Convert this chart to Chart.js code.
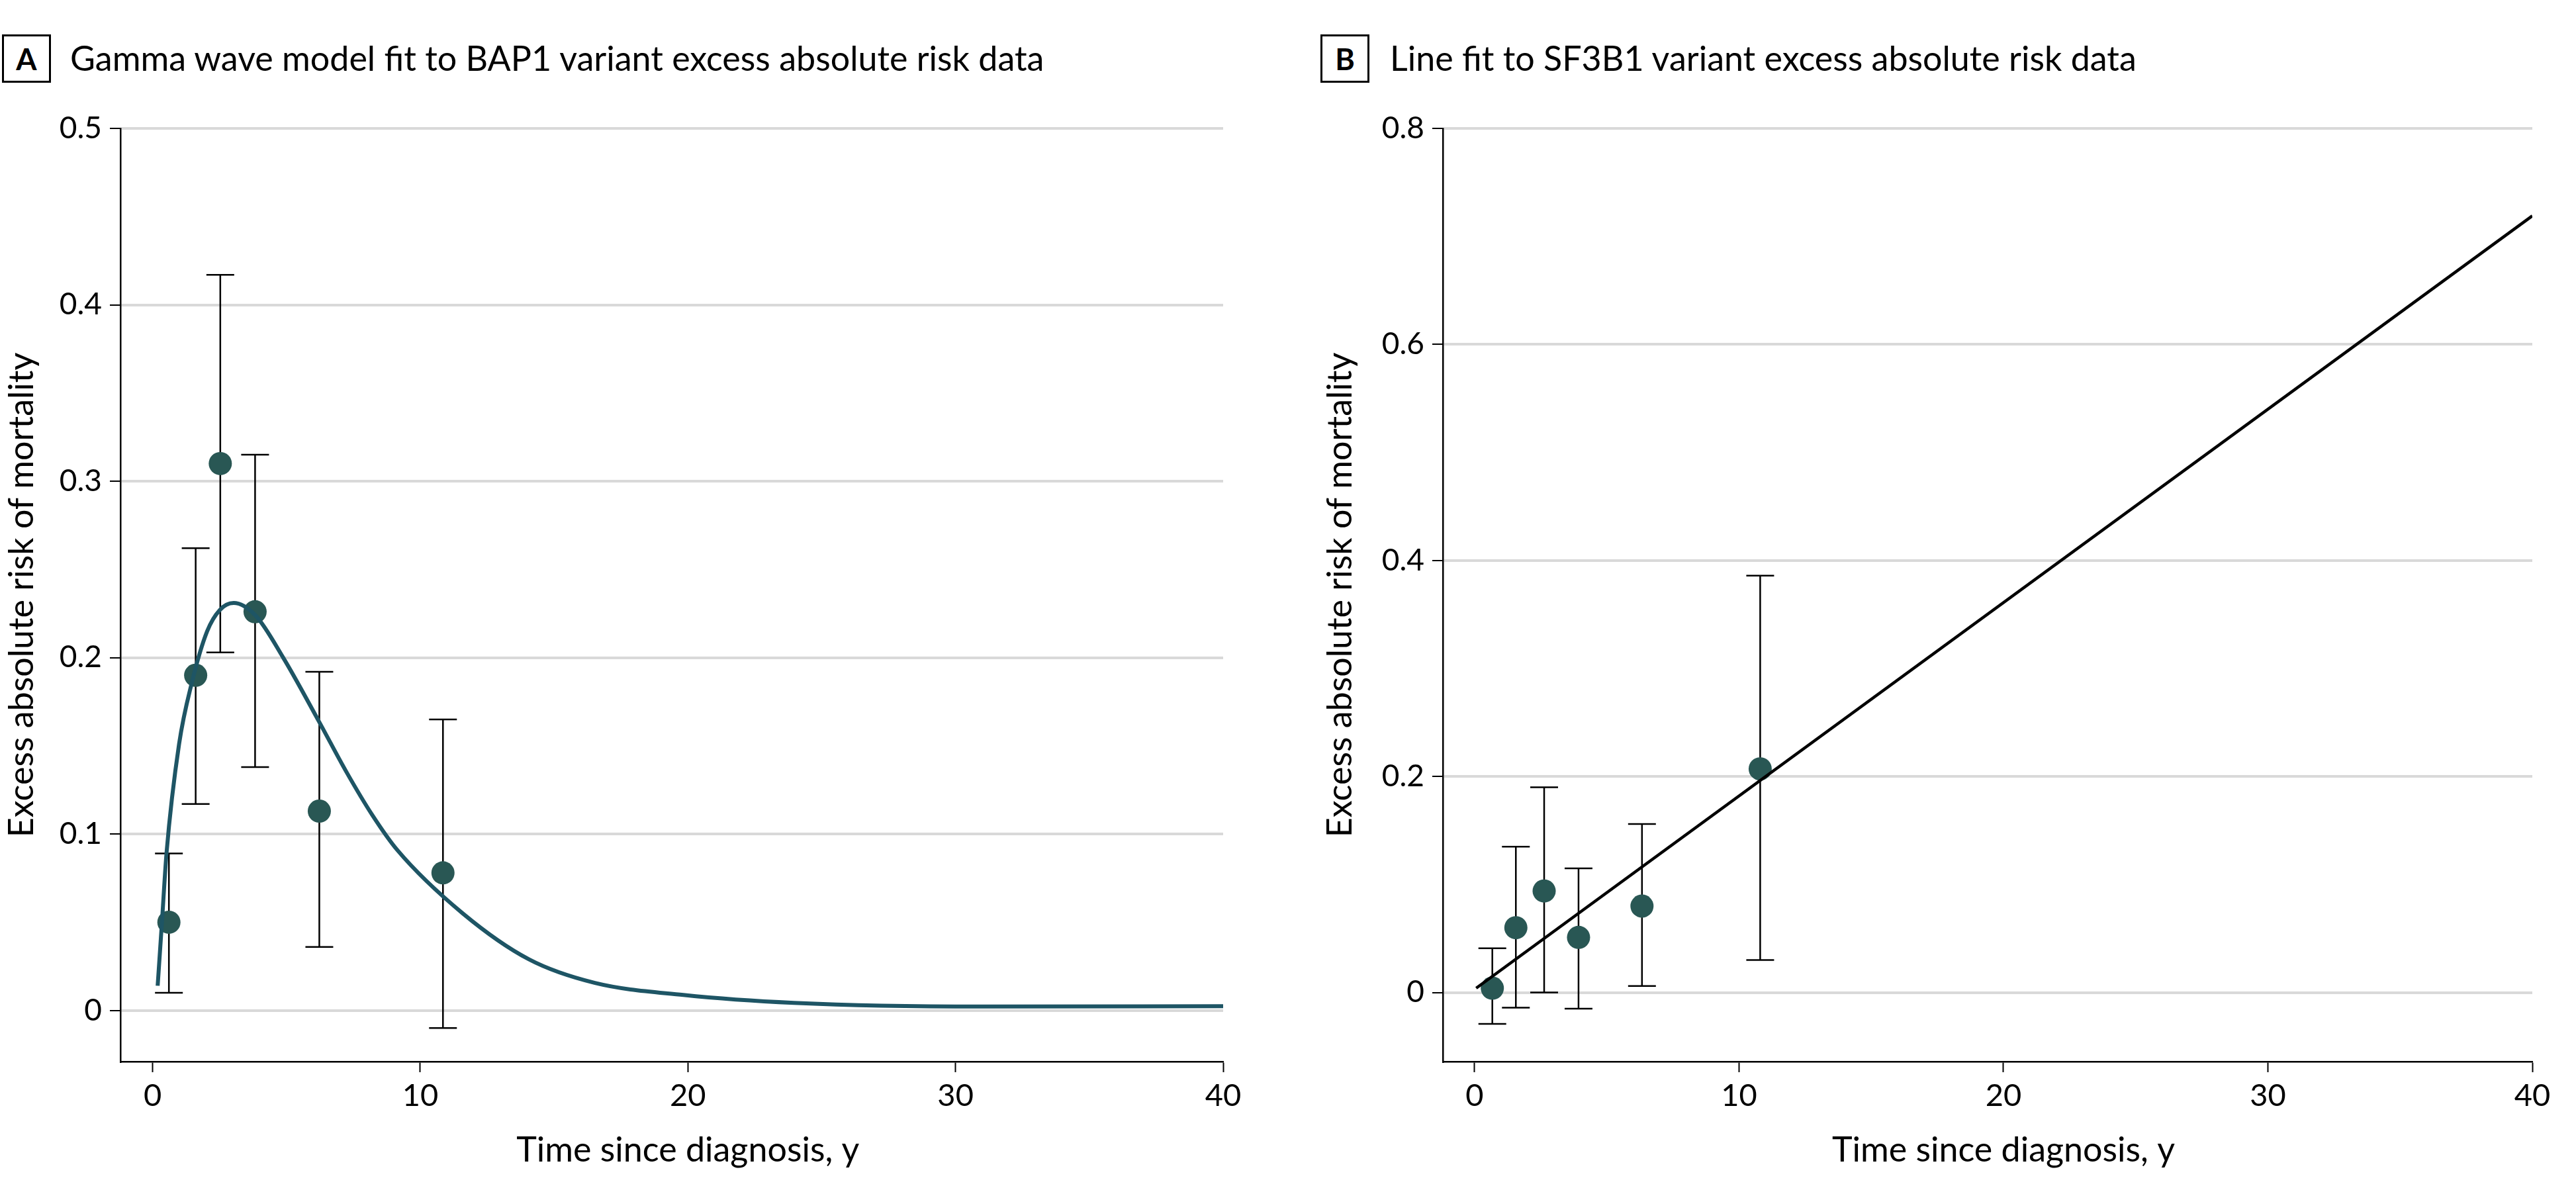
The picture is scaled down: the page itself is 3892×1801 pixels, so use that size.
<!DOCTYPE html>
<html>
<head>
<meta charset="utf-8">
<script src="https://cdn.jsdelivr.net/npm/chart.js@4.4.1/dist/chart.umd.min.js"></script>
<style>
    html, body { margin: 0; padding: 0; background: #fff; }
    body { width: 3892px; height: 1801px; position: relative; overflow: hidden; font-family: Lato, 'Open Sans', sans-serif; color: #000; }
    .badge { position: absolute; top: 52px; width: 68px; height: 67px; border: 3px solid #000; font-weight: bold; font-size: 45px; display: flex; align-items: center; justify-content: center; }
    .ptitle { position: absolute; top: 61px; font-size: 52px; line-height: 52px; white-space: nowrap; }
    canvas { position: absolute; top: 0; }
</style>
</head>
<body>
<div class="badge" style="left: 3px;">A</div>
<div class="ptitle" style="left: 106px;">Gamma wave model fit to BAP1 variant excess absolute risk data</div>
<div class="badge" style="left: 1995px;">B</div>
<div class="ptitle" style="left: 2100px;">Line fit to SF3B1 variant excess absolute risk data</div>
<canvas id="chart-a" width="1900" height="1801" style="left: 0;"></canvas>
<canvas id="chart-b" width="1942" height="1801" style="left: 1950px;"></canvas>
<script>
// --- DATA ---
// A: BAP1 points with 95% CI
const bapTime  = [0.61, 1.61, 2.53, 3.83, 6.23, 10.85];
const bapRisk  = [0.050, 0.190, 0.310, 0.226, 0.113, 0.078];
const bapLower = [0.010, 0.117, 0.203, 0.138, 0.036, -0.010];
const bapUpper = [0.089, 0.262, 0.417, 0.315, 0.192, 0.165];
// A: gamma wave fit
const gammaTime = [0.19, 0.35, 0.52, 0.99, 1.47, 2.04, 2.51, 3.03, 3.84, 4.88, 6.21, 7.25, 8.2, 9.14, 11.59, 14.06, 16.53, 19.83, 23.96, 31, 40];
const gammaRisk = [0.014, 0.050, 0.089, 0.151, 0.186, 0.215, 0.227, 0.231, 0.224, 0.200, 0.164, 0.135, 0.111, 0.091, 0.055, 0.029, 0.0156, 0.0088, 0.0043, 0.0022, 0.0024];

// B: SF3B1 points with 95% CI
const sfTime  = [0.67, 1.56, 2.63, 3.93, 6.33, 10.8];
const sfRisk  = [0.004, 0.060, 0.094, 0.051, 0.080, 0.207];
const sfLower = [-0.029, -0.014, 0.000, -0.015, 0.006, 0.030];
const sfUpper = [0.041, 0.135, 0.190, 0.115, 0.156, 0.386];
// B: linear fit
const lineTime = [0.06, 40];
const lineRisk = [0.004, 0.719];

const xTicks  = [0, 10, 20, 30, 40];
const yTicksA = [0, 0.1, 0.2, 0.3, 0.4, 0.5];
const yTicksB = [0, 0.2, 0.4, 0.6, 0.8];

const yTitle = 'Excess absolute risk of mortality';
const xTitleText = 'Time since diagnosis, y';

const markerColor = '#295754';
const curveColor = '#1e5565';
const FONT = 'Lato';

const toXY = (xs, ys) => xs.map((x, i) => ({ x: x, y: ys[i] }));

// error bars drawn under the points, through the chart scales
const errorBars = {
    id: 'errorBars',
    beforeDatasetsDraw(chart, args, o) {
        const { ctx, scales: { x, y } } = chart;
        ctx.save();
        ctx.strokeStyle = '#000';
        ctx.lineWidth = 2.5;
        o.time.forEach((t, i) => {
            const px = x.getPixelForValue(t);
            const lo = y.getPixelForValue(o.lower[i]);
            const hi = y.getPixelForValue(o.upper[i]);
            ctx.beginPath();
            ctx.moveTo(px, lo); ctx.lineTo(px, hi);
            ctx.moveTo(px - o.cap, lo); ctx.lineTo(px + o.cap, lo);
            ctx.moveTo(px - o.cap, hi); ctx.lineTo(px + o.cap, hi);
            ctx.stroke();
        });
        ctx.restore();
    }
};

// x title centred on the tick range (0..40), not on the whole axis
const xTitle = {
    id: 'xTitle',
    afterDraw(chart, args, o) {
        const { ctx, scales: { x } } = chart;
        const cx = (x.getPixelForValue(o.from) + x.getPixelForValue(o.to)) / 2;
        ctx.save();
        ctx.font = '52px ' + FONT;
        ctx.fillStyle = '#000';
        ctx.textAlign = 'center';
        ctx.textBaseline = 'alphabetic';
        ctx.fillText(o.text, cx, chart.height - 46);
        ctx.restore();
    }
};

function buildChart(id, cfg) {
    return new Chart(document.getElementById(id), {
        type: 'line',
        data: {
            datasets: [
                {
                    label: 'Fit',
                    data: toXY(cfg.fitX, cfg.fitY),
                    borderColor: cfg.fitColor,
                    borderWidth: cfg.fitWidth,
                    pointRadius: 0,
                    cubicInterpolationMode: 'monotone',
                    fill: false,
                    order: 1
                },
                {
                    label: 'Observed',
                    data: toXY(cfg.ptX, cfg.ptY),
                    showLine: false,
                    pointRadius: 17.5,
                    pointBackgroundColor: markerColor,
                    pointBorderWidth: 0,
                    order: 2
                }
            ]
        },
        plugins: [errorBars, xTitle],
        options: {
            responsive: false,
            animation: false,
            layout: { padding: { top: 194, right: cfg.rightPad, left: 0, bottom: 0 } },
            scales: {
                x: {
                    type: 'linear',
                    min: -1.2,
                    max: 40,
                    afterBuildTicks: s => { s.ticks = xTicks.map(v => ({ value: v })); },
                    afterFit: s => { s.height = 197; },
                    grid: { drawOnChartArea: false, drawTicks: true, tickLength: 16, tickColor: '#000', tickWidth: 2 },
                    border: { display: true, color: '#000', width: 2.5 },
                    ticks: { color: '#000', padding: 8, font: { family: FONT, size: 47 }, callback: v => String(v) }
                },
                y: {
                    type: 'linear',
                    min: cfg.yMin,
                    max: cfg.yMax,
                    afterBuildTicks: s => { s.ticks = cfg.yTicks.map(v => ({ value: v })); },
                    afterFit: s => { s.width = cfg.yWidth; },
                    grid: { color: '#d9d9d9', lineWidth: 4, tickLength: 16, tickColor: '#000', tickWidth: 2 },
                    border: { display: true, color: '#000', width: 2.5 },
                    ticks: { color: '#000', padding: 12, font: { family: FONT, size: 46 }, callback: v => v === 0 ? '0' : v.toFixed(1) },
                    title: { display: true, text: yTitle, color: '#000', font: { family: FONT, size: 52 }, padding: { top: cfg.titlePad, bottom: 0 } }
                }
            },
            plugins: {
                legend: { display: false },
                tooltip: { enabled: false },
                errorBars: { time: cfg.ptX, lower: cfg.lo, upper: cfg.hi, cap: 21 },
                xTitle: { text: xTitleText, from: xTicks[0], to: xTicks[xTicks.length - 1] }
            }
        }
    });
}

function draw() {
    buildChart('chart-a', {
        fitX: gammaTime, fitY: gammaRisk, fitColor: curveColor, fitWidth: 6,
        ptX: bapTime, ptY: bapRisk, lo: bapLower, hi: bapUpper,
        yMin: -0.029, yMax: 0.5, yTicks: yTicksA,
        yWidth: 182, rightPad: 52, titlePad: 2
    });
    buildChart('chart-b', {
        fitX: lineTime, fitY: lineRisk, fitColor: '#000', fitWidth: 4.5,
        ptX: sfTime, ptY: sfRisk, lo: sfLower, hi: sfUpper,
        yMin: -0.064, yMax: 0.8, yTicks: yTicksB,
        yWidth: 230, rightPad: 66, titlePad: 44
    });
}

if (document.fonts && document.fonts.load) {
    document.fonts.load('52px ' + FONT).then(draw, draw);
} else {
    draw();
}
</script>
</body>
</html>
